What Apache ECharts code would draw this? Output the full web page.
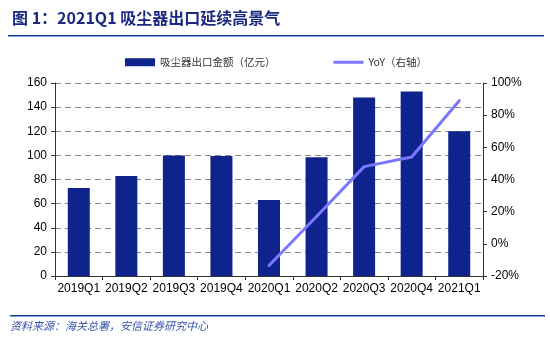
<!DOCTYPE html>
<html><head><meta charset="utf-8">
<script src="https://cdn.jsdelivr.net/npm/echarts@6/dist/echarts.min.js"></script>
<style>html,body{margin:0;padding:0;background:#fff}#c{width:550px;height:341px}</style>
</head><body><div id="c"></div>
<script>
const categories = ['2019Q1','2019Q2','2019Q3','2019Q4','2020Q1','2020Q2','2020Q3','2020Q4','2021Q1'];
const exportValues = [73, 83, 100, 99.5, 63, 98.5, 148, 153, 120];
const yoyValues = [null, null, null, null, -13.5, 17, 48, 54, 89];
const leftTicks = [0, 20, 40, 60, 80, 100, 120, 140, 160];
const rightTicks = [-20, 0, 20, 40, 60, 80, 100];
const barName = '吸尘器出口金额（亿元）';
const lineName = 'YoY（右轴）';
const titleText = '图 1：2021Q1 吸尘器出口延续高景气';
const sourceText = '资料来源：海关总署，安信证券研究中心';

const chart = echarts.init(document.getElementById('c'));
const axisFont = {fontFamily: 'Liberation Sans, Arial', fontSize: 12, color: '#000'};
chart.setOption({
  animation: false,
  grid: {left: 55, right: 67, top: 83, bottom: 65},
  legend: {
    top: 52, left: 120, itemGap: 58, itemWidth: 30, itemHeight: 8,
    textStyle: {fontFamily: 'Noto Sans CJK SC', fontSize: 10.5, color: '#333'},
    data: [
      {name: barName, icon: 'rect'},
      {name: lineName, icon: 'path://M0,0 L30,0 L30,3 L0,3 Z'}
    ]
  },
  xAxis: {
    type: 'category', data: categories,
    axisLine: {lineStyle: {color: '#333', width: 1}},
    axisTick: {show: true, alignWithLabel: false, length: 4, lineStyle: {color: '#333'}},
    axisLabel: Object.assign({margin: 7, interval: 0}, axisFont)
  },
  yAxis: [
    {type: 'value', min: leftTicks[0], max: leftTicks[leftTicks.length-1], interval: 20,
     axisLine: {show: true, lineStyle: {color: '#333'}},
     axisTick: {show: true, length: 4, lineStyle: {color: '#333'}},
     axisLabel: Object.assign({margin: 8}, axisFont),
     splitLine: {show: true, lineStyle: {color: '#888', type: [6, 4], width: 1}}},
    {type: 'value', min: rightTicks[0], max: rightTicks[rightTicks.length-1], interval: 20,
     axisLine: {show: true, lineStyle: {color: '#333'}},
     axisTick: {show: true, length: 4, lineStyle: {color: '#333'}},
     axisLabel: Object.assign({margin: 8, formatter: '{value}%'}, axisFont),
     splitLine: {show: false}}
  ],
  series: [
    {name: barName, type: 'bar', data: exportValues, barWidth: 22,
     itemStyle: {color: '#0f238c'}},
    {name: lineName, type: 'line', yAxisIndex: 1, data: yoyValues, symbol: 'none',
     lineStyle: {color: '#7a78ff', width: 3, cap: 'round'}, itemStyle: {color: '#7a78ff'}}
  ],
  graphic: [
    {type: 'text', left: 12, top: 10, style: {text: titleText, fontFamily: 'Noto Sans CJK SC', fontWeight: 'bold', fontSize: 16, fill: '#1b2a80'}},
    {type: 'rect', shape: {x: 8, y: 35, width: 536, height: 1.5}, style: {fill: '#1b3a9a'}},
    {type: 'rect', shape: {x: 10, y: 315, width: 535, height: 1.5}, style: {fill: '#1b3a9a'}},
    {type: 'text', left: 10, top: 320, style: {text: sourceText, fontFamily: 'Noto Sans CJK SC', fontStyle: 'italic', fontSize: 11, fill: '#3a55a8'}}
  ]
});
</script></body></html>
